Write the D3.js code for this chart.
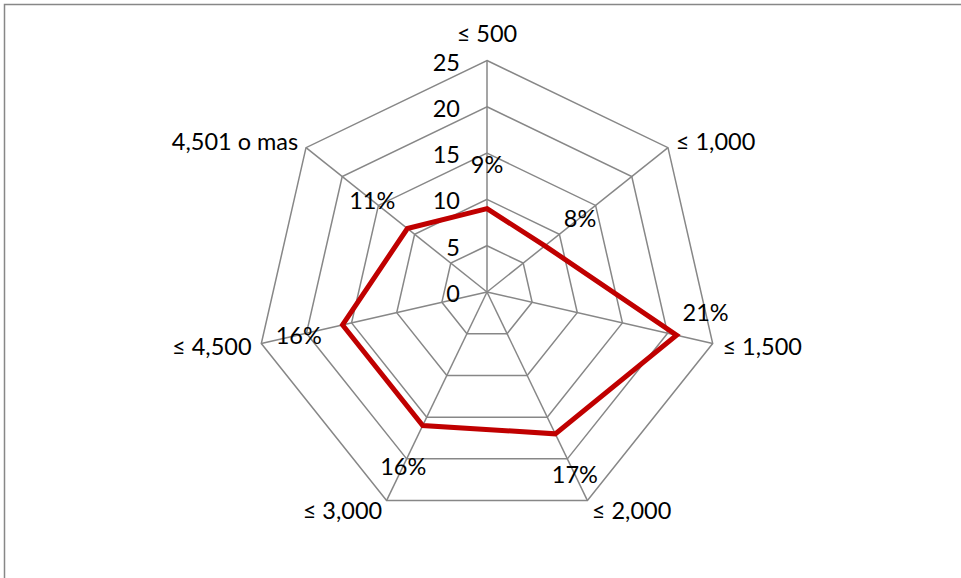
<!DOCTYPE html>
<html>
<head>
<meta charset="utf-8">
<script src="https://cdn.jsdelivr.net/npm/d3@7"></script>
<style>
  html, body { margin: 0; padding: 0; background: #fff; }
  svg { display: block; }
  text { font-family: Lato, "Open Sans", sans-serif; fill: #000; }
</style>
</head>
<body>
<svg id="chart" width="961" height="578"></svg>
<script>
// Categories (clockwise from top), series values (%) and radial tick labels
const categories = ["≤ 500", "≤ 1,000", "≤ 1,500", "≤ 2,000", "≤ 3,000", "≤ 4,500", "4,501 o mas"];
const values = [9, 8, 21, 17, 16, 16, 11];
const ticks = [0, 5, 10, 15, 20, 25];

const svg = d3.select("#chart");
const W = 961, H = 578;
const cx = 487, cy = 292, R = 231.5;
const gridColor = "#878787";
const lineColor = "#C00000";
const fontSize = 23.5;

// outer chart-area frame (runs off the right and bottom of the view)
svg.append("rect")
  .attr("x", 4.5).attr("y", 4.5)
  .attr("width", W + 20).attr("height", H + 20)
  .attr("fill", "none").attr("stroke", gridColor).attr("stroke-width", 1.5);

const r = d3.scaleLinear().domain([0, 25]).range([0, R]);
const angle = d3.scalePoint().domain(d3.range(categories.length))
  .range([0, 2 * Math.PI * (categories.length - 1) / categories.length]);

const pt = (i, rad) => [cx + rad * Math.sin(angle(i)), cy - rad * Math.cos(angle(i))];

const g = svg.append("g");

// polygon grid rings
ticks.filter(t => t > 0).forEach(t => {
  g.append("polygon")
    .attr("points", categories.map((c, i) => pt(i, r(t)).join(",")).join(" "))
    .attr("fill", "none").attr("stroke", gridColor).attr("stroke-width", 1.5);
});

// spokes
categories.forEach((c, i) => {
  const [x, y] = pt(i, R);
  g.append("line").attr("x1", cx).attr("y1", cy).attr("x2", x).attr("y2", y)
    .attr("stroke", gridColor).attr("stroke-width", 1.5);
});

// radial tick labels along the top spoke
g.selectAll(".tick").data(ticks).join("text")
  .attr("x", cx - 27)
  .attr("y", d => cy - r(d) + 1)
  .attr("text-anchor", "end")
  .attr("dominant-baseline", "central")
  .attr("font-size", fontSize)
  .text(d => d);

// category labels just outside each spoke end
categories.forEach((c, i) => {
  const a = angle(i);
  const s = Math.sin(a), co = Math.cos(a);
  const [vx, vy] = pt(i, R);
  const t = g.append("text").attr("font-size", fontSize).text(c);
  if (Math.abs(s) < 0.1) {
    t.attr("x", vx).attr("y", vy - 19).attr("text-anchor", "middle");
  } else {
    t.attr("x", vx + 10 * s).attr("y", vy - 10 * co)
      .attr("text-anchor", s > 0 ? "start" : "end")
      .attr("dominant-baseline", "central");
  }
});

// data series
const line = d3.lineRadial()
  .angle((d, i) => angle(i))
  .radius(d => r(d))
  .curve(d3.curveLinearClosed);

g.append("path")
  .attr("transform", `translate(${cx},${cy})`)
  .attr("d", line(values))
  .attr("fill", "none")
  .attr("stroke", lineColor)
  .attr("stroke-width", 5)
  .attr("stroke-linejoin", "miter");

// value labels, set outward along each spoke
values.forEach((v, i) => {
  let lr = r(v) + 45;
  let [x, y] = pt(i, lr);
  if (lr > R) {
    // would collide with the category label: tuck it above the vertex
    const [vx, vy] = pt(i, r(v));
    x = vx + 29; y = vy - 23;
  }
  g.append("text")
    .attr("x", x).attr("y", y)
    .attr("text-anchor", "middle")
    .attr("dominant-baseline", "central")
    .attr("font-size", fontSize)
    .text(v + "%");
});
</script>
</body>
</html>
